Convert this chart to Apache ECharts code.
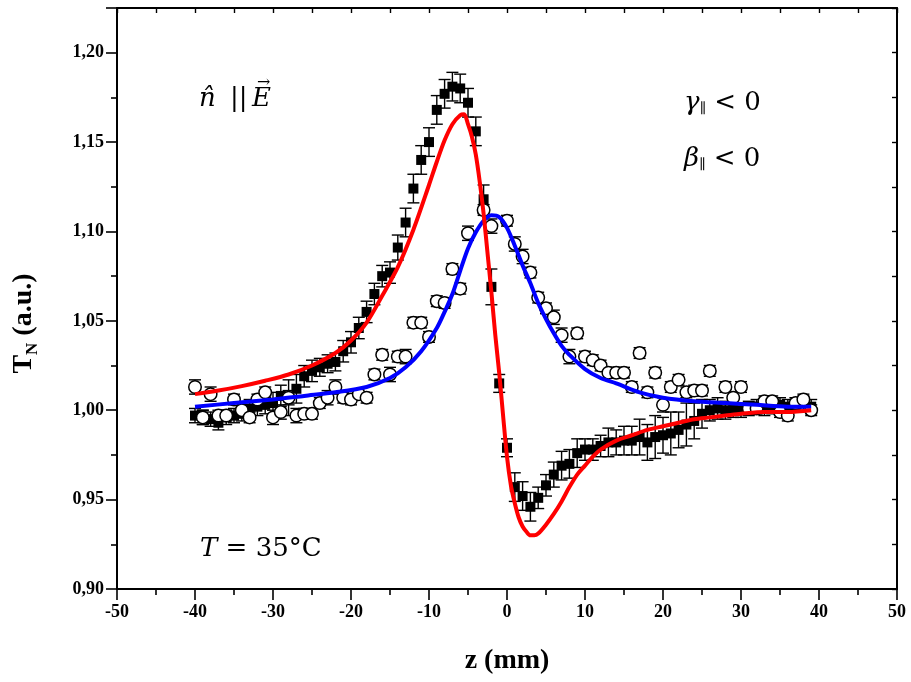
<!DOCTYPE html>
<html>
<head>
<meta charset="utf-8">
<script src="https://cdn.jsdelivr.net/npm/echarts@6/dist/echarts.min.js"></script>
<style>
html,body{margin:0;padding:0;background:#fff;}
#chart{width:911px;height:682px;}
</style>
</head>
<body>
<div id="chart"></div>
<script>
// ---- Data ----
const xTicks = [-50, -40, -30, -20, -10, 0, 10, 20, 30, 40, 50];
const yTicks = [0.90, 0.95, 1.00, 1.05, 1.10, 1.15, 1.20];

// filled squares (measured)
const sqX = [-40,-39,-38,-37,-36,-35,-34,-33,-32,-31,-30,-29,-28,-27,-26,-25,-24,-23,-22,-21,
             -20,-19,-18,-17,-16,-15,-14,-13,-12,-11,-10,-9,-8,-7,-6,-5,-4,-3,-2,-1,
             0,1,2,3,4,5,6,7,8,9,10,11,12,13,14,15,16,17,18,19,
             20,21,22,23,24,25,26,27,28,29,30,31,32,33,34,35,36,37,38,39];
const sqY = [0.997,0.996,0.995,0.993,0.996,0.997,0.998,1.001,1.002,1.003,1.004,1.008,1.007,1.012,1.019,1.022,1.024,1.026,1.027,1.033,
             1.038,1.046,1.055,1.065,1.075,1.077,1.091,1.105,1.124,1.140,1.150,1.168,1.177,1.181,1.180,1.172,1.156,1.118,1.069,1.015,
             0.979,0.957,0.952,0.946,0.951,0.958,0.964,0.969,0.970,0.976,0.978,0.978,0.980,0.982,0.982,0.983,0.983,0.985,0.982,0.985,
             0.986,0.987,0.989,0.992,0.994,0.998,1.000,1.001,1.000,1.001,1.000,1.001,1.002,1.001,1.002,1.003,1.002,1.003,1.004,1.002];
const sqErr = [0.004,0.004,0.004,0.004,0.004,0.004,0.004,0.005,0.005,0.005,0.006,0.006,0.010,0.008,0.006,0.006,0.005,0.005,0.005,0.006,
               0.006,0.006,0.006,0.006,0.006,0.006,0.007,0.008,0.008,0.008,0.008,0.008,0.008,0.008,0.008,0.008,0.008,0.008,0.010,0.005,
               0.005,0.008,0.008,0.008,0.006,0.006,0.007,0.008,0.008,0.008,0.006,0.006,0.006,0.008,0.007,0.008,0.008,0.010,0.010,0.012,
               0.010,0.012,0.010,0.012,0.010,0.008,0.006,0.006,0.005,0.005,0.004,0.004,0.004,0.004,0.004,0.004,0.004,0.004,0.004,0.004];

// open circles
const ciX = [-40,-39,-38,-37,-36,-35,-34,-33,-32,-31,-30,-29,-28,-27,-26,-25,-24,-23,-22,-21,
             -20,-19,-18,-17,-16,-15,-14,-13,-12,-11,-10,-9,-8,-7,-6,-5,-3,-2,0,1,
             2,3,4,5,6,7,8,9,10,11,12,13,14,15,16,17,18,19,20,21,
             22,23,24,25,26,28,29,30,31,32,33,34,35,36,37,38,39];
const ciY = [1.013,0.996,1.009,0.997,0.997,1.006,1.000,0.996,1.006,1.010,0.996,0.999,1.007,0.997,0.998,0.998,1.004,1.007,1.013,1.007,
             1.006,1.009,1.007,1.020,1.031,1.020,1.030,1.030,1.049,1.049,1.041,1.061,1.060,1.079,1.068,1.099,1.112,1.103,1.106,1.093,
             1.086,1.077,1.063,1.057,1.052,1.042,1.030,1.043,1.030,1.028,1.025,1.021,1.021,1.021,1.013,1.032,1.010,1.021,1.003,1.013,
             1.017,1.010,1.011,1.011,1.022,1.013,1.007,1.013,1.001,1.001,1.005,1.005,0.999,0.997,1.004,1.006,1.000];
const ciErr = [0.004,0.004,0.004,0.003,0.003,0.003,0.003,0.003,0.003,0.003,0.004,0.004,0.004,0.004,0.003,0.003,0.003,0.004,0.004,0.003,
               0.003,0.003,0.003,0.003,0.003,0.004,0.003,0.004,0.003,0.003,0.003,0.003,0.003,0.003,0.003,0.004,0.003,0.004,0.003,0.004,
               0.004,0.003,0.003,0.003,0.004,0.004,0.004,0.003,0.003,0.003,0.003,0.003,0.003,0.003,0.003,0.003,0.003,0.003,0.004,0.003,
               0.003,0.003,0.003,0.003,0.003,0.003,0.003,0.003,0.003,0.003,0.003,0.003,0.003,0.003,0.003,0.003,0.003];

// red fit curve (squares)
const redX = [-40,-37,-34,-31,-28,-25,-22,-20,-18,-16,-14,-12,-10,-9,-8,-7,-6,-5.5,-5,-4.5,-4,-3.5,-3,-2.5,-2,-1.5,-1,-0.5,
              0,0.5,1,1.5,2,2.5,3,3.5,4,5,6,7,8,9,10,11,12,14,16,18,20,22,24,26,28,30,33,36,39];
const redY = [1.009,1.011,1.0135,1.0165,1.020,1.025,1.032,1.039,1.049,1.064,1.080,1.101,1.126,1.139,1.151,1.160,1.165,1.1655,1.160,1.153,1.143,1.128,1.110,1.088,1.066,1.042,1.021,0.997,
              0.974,0.958,0.948,0.940,0.935,0.932,0.930,0.930,0.931,0.936,0.942,0.949,0.957,0.964,0.969,0.974,0.978,0.983,0.986,0.989,0.991,0.993,0.995,0.996,0.997,0.998,0.999,0.999,1.000];

// blue fit curve (circles)
const blueX = [-40,-35,-30,-26,-22,-18,-15,-13,-11,-9,-8,-7,-6,-5,-4,-3,-2,-1,0,1,2,3,4,5,6,7,8,10,12,14,17,20,24,28,32,36,39];
const blueY = [1.002,1.004,1.006,1.008,1.010,1.013,1.018,1.024,1.033,1.046,1.055,1.065,1.078,1.0905,1.0995,1.106,1.109,1.108,1.102,1.092,1.081,1.071,1.060,1.051,1.043,1.036,1.031,1.023,1.018,1.015,1.010,1.007,1.005,1.004,1.003,1.002,1.002];

// ---- Build ----
const FONT = '"Liberation Serif", "Times New Roman", serif';
const AFONT = '"DejaVu Serif", serif';
const zip = (xs, ys) => xs.map((x, i) => [x, ys[i]]);
const zip3 = (xs, ys, es) => xs.map((x, i) => [x, ys[i], es[i]]);

function errRender(params, api) {
  const x = api.value(0), y = api.value(1), e = api.value(2);
  const hi = api.coord([x, y + e]);
  const lo = api.coord([x, y - e]);
  const c = 6;
  const st = { stroke: '#000', lineWidth: 1.4 };
  return {
    type: 'group',
    children: [
      { type: 'line', shape: { x1: hi[0], y1: hi[1], x2: lo[0], y2: lo[1] }, style: st },
      { type: 'line', shape: { x1: hi[0] - c, y1: hi[1], x2: hi[0] + c, y2: hi[1] }, style: st },
      { type: 'line', shape: { x1: lo[0] - c, y1: lo[1], x2: lo[0] + c, y2: lo[1] }, style: st }
    ]
  };
}

const xMin = xTicks[0], xMax = xTicks[xTicks.length - 1];
const yMin = yTicks[0], yMax = 1.225;

const chart = echarts.init(document.getElementById('chart'), null, { renderer: 'canvas' });
const axisLineStyle = { color: '#000', width: 2 };
const ital = { fontFamily: AFONT, fontStyle: 'italic', fontSize: 26, fill: '#000' };
const norm = { fontFamily: AFONT, fontSize: 26, fill: '#000' };
const sub = { fontFamily: AFONT, fontSize: 14, fill: '#000', padding: [12, 0, 0, 0] };
chart.setOption({
  animation: false,
  backgroundColor: '#fff',
  grid: { left: 117, right: 14, top: 8, bottom: 93, containLabel: false },
  xAxis: [{
    type: 'value', min: xMin, max: xMax, interval: 10, position: 'bottom',
    name: 'z (mm)', nameLocation: 'middle', nameGap: 58,
    nameTextStyle: { fontFamily: FONT, fontWeight: 'bold', fontSize: 28, color: '#000' },
    axisLine: { onZero: false, lineStyle: axisLineStyle },
    axisTick: { show: true, inside: false, length: 11, lineStyle: { color: '#000', width: 1.6 } },
    minorTick: { show: true, splitNumber: 2, length: 6, lineStyle: { color: '#000', width: 1.6 } },
    axisLabel: { fontFamily: FONT, fontWeight: 'bold', fontSize: 18, color: '#000', margin: 14 },
    splitLine: { show: false }
  }, {
    type: 'value', min: xMin, max: xMax, interval: 10, position: 'top',
    axisLine: { onZero: false, lineStyle: axisLineStyle },
    axisTick: { show: true, inside: true, length: 5, lineStyle: { color: '#000', width: 1.4 } },
    minorTick: { show: true, splitNumber: 2, length: 5, lineStyle: { color: '#000', width: 1.4 } },
    axisLabel: { show: false }, splitLine: { show: false }
  }],
  yAxis: [{
    type: 'value', min: yMin, max: yMax, interval: 0.05, position: 'left',
    name: '{t|T}{s|N}{t| (a.u.)}', nameLocation: 'middle', nameGap: 76,
    nameTextStyle: {
      fontFamily: FONT, fontWeight: 'bold', color: '#000', padding: [0, 50, 0, 0],
      rich: {
        t: { fontFamily: FONT, fontWeight: 'bold', fontSize: 28, color: '#000' },
        s: { fontFamily: FONT, fontWeight: 'bold', fontSize: 17, color: '#000', padding: [18, 0, 0, 0] }
      }
    },
    axisLine: { onZero: false, lineStyle: axisLineStyle },
    axisTick: { show: true, inside: false, length: 11, lineStyle: { color: '#000', width: 1.6 } },
    minorTick: { show: true, splitNumber: 2, length: 6, lineStyle: { color: '#000', width: 1.6 } },
    axisLabel: {
      fontFamily: FONT, fontWeight: 'bold', fontSize: 18, color: '#000', margin: 13,
      showMaxLabel: false,
      formatter: v => yTicks.some(t => Math.abs(t - v) < 1e-6) ? v.toFixed(2).replace('.', ',') : ''
    },
    splitLine: { show: false }
  }, {
    type: 'value', min: yMin, max: yMax, interval: 0.05, position: 'right',
    axisLine: { onZero: false, lineStyle: axisLineStyle },
    axisTick: { show: true, inside: true, length: 5, lineStyle: { color: '#000', width: 1.4 } },
    minorTick: { show: true, splitNumber: 2, length: 5, lineStyle: { color: '#000', width: 1.4 } },
    axisLabel: { show: false }, splitLine: { show: false }
  }],
  series: [
    { type: 'custom', renderItem: errRender, data: zip3(sqX, sqY, sqErr), z: 1, silent: true },
    { type: 'scatter', data: zip(sqX, sqY), symbol: 'rect', symbolSize: 10,
      itemStyle: { color: '#000', opacity: 1 }, z: 2 },
    { type: 'custom', renderItem: errRender, data: zip3(ciX, ciY, ciErr), z: 3, silent: true },
    { type: 'scatter', data: zip(ciX, ciY), symbol: 'circle', symbolSize: 12.5,
      itemStyle: { color: '#fff', borderColor: '#000', borderWidth: 1.5, opacity: 1 }, z: 4 },
    { type: 'line', data: zip(blueX, blueY), showSymbol: false, smooth: 0.3,
      lineStyle: { color: '#0000ff', width: 4 }, z: 5 },
    { type: 'line', data: zip(redX, redY), showSymbol: false, smooth: 0.3,
      lineStyle: { color: '#ff0000', width: 4 }, z: 6 }
  ],
  graphic: [
    { type: 'text', left: 199, top: 86, z: 10, style: { text: 'n\u0302', ...ital } },
    { type: 'text', left: 230, top: 86, z: 10, style: { text: '||', ...norm } },
    { type: 'text', left: 252, top: 86, z: 10, style: { text: 'E', ...ital } },
    { type: 'text', left: 257, top: 75, z: 10, style: {
        text: '\u2192', fontFamily: AFONT, fontSize: 16, fill: '#000' } },
    { type: 'text', left: 684, top: 90, z: 10, style: {
        text: '{i|\u03B3}{s|\u2225}{n| < 0}', rich: { i: ital, s: sub, n: norm } } },
    { type: 'text', left: 684, top: 146, z: 10, style: {
        text: '{i|\u03B2}{s|\u2225}{n| < 0}', rich: { i: ital, s: sub, n: norm } } },
    { type: 'text', left: 200, top: 536, z: 10, style: {
        text: '{i|T}{n| = 35\u00B0C}', rich: { i: ital, n: norm } } }
  ]
});
</script>
</body>
</html>
